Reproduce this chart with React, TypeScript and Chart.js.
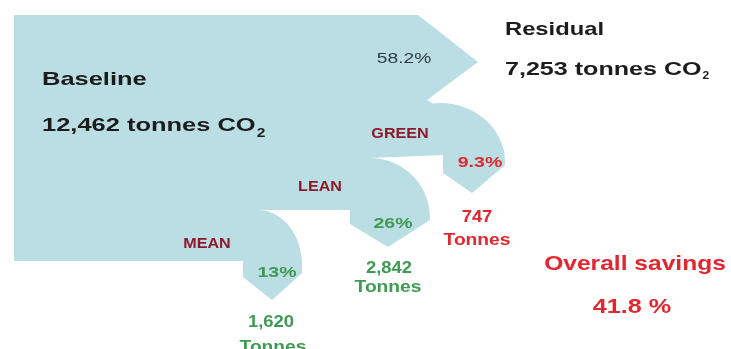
import React, { useEffect, useRef } from "react";
import { Chart, registerables } from "chart.js";

Chart.register(...registerables);

// ---------- data ----------
const FLOW_LABELS = ["Residual", "GREEN", "LEAN", "MEAN"];
const FLOW_TONNES = [7253, 747, 2842, 1620];
const FLOW_SHARE = [58.2, 9.3, 26, 13];
const BASELINE_LABEL = "Baseline";
const BASELINE_TONNES = 12462;
const OVERALL_SAVINGS = 41.8;

// ---------- styles ----------
const FILL = "#badee3";
const DARK = "#1c1c1c";
const SLATE = "#2f3b44";
const MAROON = "#8c1a2c";
const RED = "#e3262f";
const GREEN = "#3f9a52";
const FONT = '"Liberation Sans", Arial, sans-serif';

const fmt = (n: number) => n.toLocaleString("en-US");

function drawText(
  ctx: CanvasRenderingContext2D,
  s: string,
  x: number,
  y: number,
  size: number,
  weight: string,
  color: string,
  sx: number,
  align: CanvasTextAlign = "left"
) {
  ctx.save();
  ctx.font = `${weight} ${size}px ${FONT}`;
  ctx.fillStyle = color;
  ctx.textBaseline = "alphabetic";
  ctx.textAlign = align;
  ctx.translate(x, y);
  ctx.scale(sx, 1);
  ctx.fillText(s, 0, 0);
  const w = ctx.measureText(s).width * sx;
  ctx.restore();
  return w;
}

const sankeyPlugin = {
  id: "sankeyPlugin",
  afterDraw(chart: any) {
    const ctx: CanvasRenderingContext2D = chart.ctx;
    const xs = chart.scales.x;
    const ys = chart.scales.y;
    const X = (v: number) => xs.getPixelForValue(v);
    const Y = (v: number) => ys.getPixelForValue(v);
    const RX = (v: number) => X(v) - X(0);
    const RY = (v: number) => Math.abs(Y(v) - Y(0));

    ctx.save();
    ctx.fillStyle = "#ffffff";
    ctx.fillRect(0, 0, chart.width, chart.height);

    // flow shape
    ctx.beginPath();
    ctx.moveTo(X(14), Y(15));
    ctx.lineTo(X(418), Y(15));
    ctx.lineTo(X(478), Y(62));
    ctx.lineTo(X(427), Y(100));
    // GREEN branch
    ctx.lineTo(X(433), Y(103.5));
    ctx.ellipse(X(440), Y(162), RX(65), RY(59), 0, -Math.PI / 2, 0);
    ctx.lineTo(X(505), Y(165));
    ctx.lineTo(X(472), Y(193));
    ctx.lineTo(X(443), Y(173));
    ctx.lineTo(X(443), Y(155));
    // LEAN branch
    ctx.lineTo(X(370), Y(158));
    ctx.ellipse(X(370), Y(218), RX(60), RY(60), 0, -Math.PI / 2, 0);
    ctx.lineTo(X(430), Y(220));
    ctx.lineTo(X(388), Y(247));
    ctx.lineTo(X(350), Y(224));
    ctx.lineTo(X(350), Y(210));
    // MEAN branch
    ctx.lineTo(X(258), Y(210));
    ctx.ellipse(X(258), Y(265), RX(44), RY(55), 0, -Math.PI / 2, 0);
    ctx.lineTo(X(302), Y(273));
    ctx.lineTo(X(272), Y(300));
    ctx.lineTo(X(243), Y(277));
    ctx.lineTo(X(243), Y(261));
    ctx.lineTo(X(14), Y(261));
    ctx.closePath();
    ctx.fillStyle = FILL;
    ctx.fill();

    // Baseline labels
    drawText(ctx, BASELINE_LABEL, X(42), Y(85), 19, "bold", DARK, 1.34);
    let w = drawText(ctx, `${fmt(BASELINE_TONNES)} tonnes CO`, X(42), Y(131), 19, "bold", DARK, 1.34);
    drawText(ctx, "2", X(42) + w + 1, Y(137), 13, "bold", DARK, 1.2);

    // Residual labels
    drawText(ctx, FLOW_LABELS[0], X(505), Y(35), 19, "bold", DARK, 1.25);
    w = drawText(ctx, `${fmt(FLOW_TONNES[0])} tonnes CO`, X(505), Y(75), 19, "bold", DARK, 1.32);
    drawText(ctx, "2", X(505) + w + 1, Y(79), 10, "bold", DARK, 1.2);
    drawText(ctx, `${FLOW_SHARE[0]}%`, X(404), Y(63), 15, "normal", SLATE, 1.28, "center");

    // GREEN
    drawText(ctx, FLOW_LABELS[1], X(400), Y(138), 14, "bold", MAROON, 1.15, "center");
    drawText(ctx, `${FLOW_SHARE[1]}%`, X(480), Y(167), 15, "bold", RED, 1.3, "center");
    drawText(ctx, fmt(FLOW_TONNES[1]), X(477), Y(222), 16, "bold", RED, 1.15, "center");
    drawText(ctx, "Tonnes", X(477), Y(245), 16, "bold", RED, 1.2, "center");

    // LEAN
    drawText(ctx, FLOW_LABELS[2], X(320), Y(191), 14, "bold", MAROON, 1.15, "center");
    drawText(ctx, `${FLOW_SHARE[2]}%`, X(393), Y(228), 15, "bold", GREEN, 1.3, "center");
    drawText(ctx, fmt(FLOW_TONNES[2]), X(389), Y(273), 16, "bold", GREEN, 1.15, "center");
    drawText(ctx, "Tonnes", X(388), Y(292), 16, "bold", GREEN, 1.2, "center");

    // MEAN
    drawText(ctx, FLOW_LABELS[3], X(207), Y(248), 14, "bold", MAROON, 1.15, "center");
    drawText(ctx, `${FLOW_SHARE[3]}%`, X(277), Y(277), 15, "bold", GREEN, 1.3, "center");
    drawText(ctx, fmt(FLOW_TONNES[3]), X(271), Y(327), 16, "bold", GREEN, 1.15, "center");
    drawText(ctx, "Tonnes", X(273), Y(352), 16, "bold", GREEN, 1.2, "center");

    // Overall savings
    drawText(ctx, "Overall savings", X(635), Y(270), 21, "bold", RED, 1.17, "center");
    drawText(ctx, `${OVERALL_SAVINGS} %`, X(632), Y(313), 21, "bold", RED, 1.2, "center");

    ctx.restore();
  },
};

export default function App() {
  const ref = useRef<HTMLCanvasElement | null>(null);
  useEffect(() => {
    if (!ref.current) return;
    const chart = new Chart(ref.current, {
      type: "scatter",
      data: { datasets: [] },
      options: {
        animation: false,
        responsive: false,
        devicePixelRatio: 1,
        layout: { padding: 0 },
        plugins: { legend: { display: false }, tooltip: { enabled: false } },
        scales: {
          x: { type: "linear", min: 0, max: 731, display: false },
          y: { type: "linear", min: 0, max: 349, reverse: true, display: false },
        },
      },
      plugins: [sankeyPlugin],
    });
    return () => chart.destroy();
  }, []);
  return (
    <div style={{ position: "fixed", left: 0, top: 0, width: 731, height: 349, background: "#fff" }}>
      <canvas ref={ref} width={731} height={349} style={{ display: "block" }} />
    </div>
  );
}
